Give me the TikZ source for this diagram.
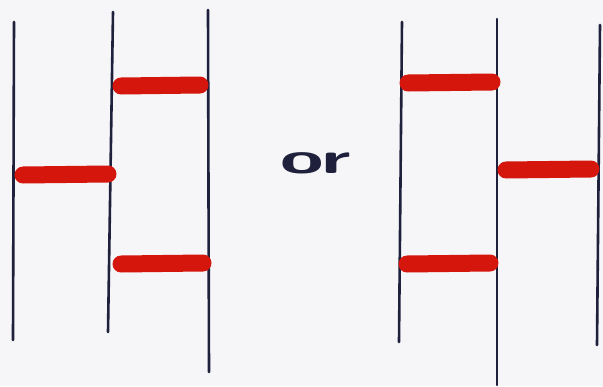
\documentclass[tikz,border=0pt]{standalone}
\usepackage{tikz}
\definecolor{inkblue}{RGB}{30,32,60}
\definecolor{inkred}{RGB}{212,22,12}
\definecolor{paper}{RGB}{246,246,248}
\tikzset{
  strand/.style={inkblue,line width=2.6pt,line cap=round},
  rung/.style={inkred,line width=17pt,line cap=round}
}
\begin{document}
\begin{tikzpicture}[x=1pt,y=-1pt]
  \fill[paper] (0,0) rectangle (603,386);
  \useasboundingbox (0,0) rectangle (603,386);
  % left ladder
  \draw[strand] (14,22) -- (13,340);
  \draw[strand] (113,12) -- (108,332);
  \draw[strand] (208,10) -- (209,372);
  \draw[rung] (121,86) -- (200,85);
  \draw[rung] (23,175) -- (108,174);
  \draw[rung] (121,264) -- (203,263);
  % right ladder
  \draw[strand] (402,22) -- (399,342);
  \draw[strand] (497,19) -- (497,385);
  \draw[strand] (600,25) -- (597,345);
  \draw[rung] (408,83) -- (492,82);
  \draw[rung] (506,170) -- (591,169);
  \draw[rung] (407,264) -- (490,263);
  \node[font=\fontsize{44}{44}\selectfont\sffamily\bfseries,inkblue,xscale=1.8] (or) at (316,163) {or};
\end{tikzpicture}
\end{document}
